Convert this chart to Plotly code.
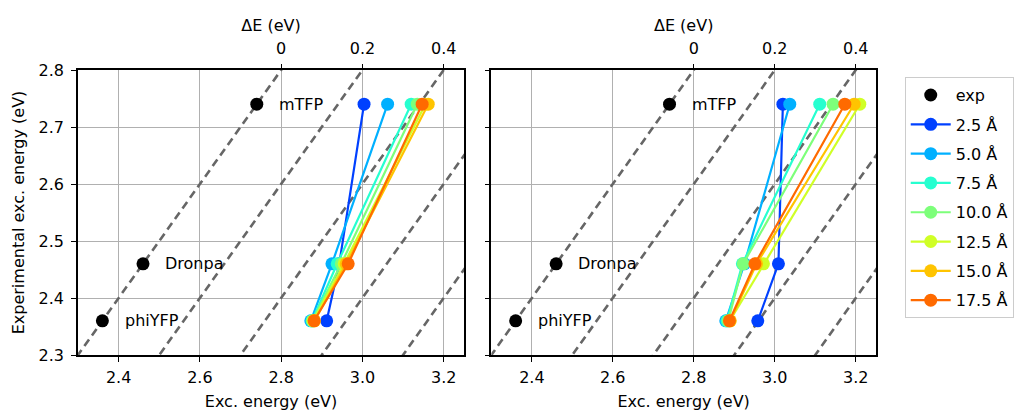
import plotly.graph_objects as go

# ---------------- data ----------------
proteins = ["mTFP", "Dronpa", "phiYFP"]
exp_energy = [2.74, 2.46, 2.36]
labels = ["2.5 Å", "5.0 Å", "7.5 Å", "10.0 Å", "12.5 Å", "15.0 Å", "17.5 Å"]
colors = ["#0040ff", "#00b0ff", "#26ffd0", "#7dff7a", "#d0ff26", "#ffc400", "#ff6a00"]

left_25 = [3.004, 2.943, 2.912]
left_50 = [3.062, 2.925, 2.873]
left_75 = [3.120, 2.938, 2.876]
left_100 = [3.135, 2.948, 2.877]
left_125 = [3.155, 2.955, 2.879]
left_150 = [3.162, 2.960, 2.882]
left_175 = [3.147, 2.965, 2.881]

right_25 = [3.020, 3.009, 2.958]
right_50 = [3.037, 2.925, 2.879]
right_75 = [3.111, 2.920, 2.882]
right_100 = [3.144, 2.922, 2.885]
right_125 = [3.210, 2.972, 2.889]
right_150 = [3.196, 2.955, 2.890]
right_175 = [3.173, 2.951, 2.888]

left_series = [left_25, left_50, left_75, left_100, left_125, left_150, left_175]
right_series = [right_25, right_50, right_75, right_100, right_125, right_150, right_175]

diag_offsets = [0.0, 0.2, 0.4, 0.6, 0.8, 1.0]
top_tickvals = [2.8, 3.0, 3.2]
top_ticktext = ["0", "0.2", "0.4"]
x_range = [2.3, 3.25]
y_range = [2.3, 2.8]

# ---------------- figure ----------------
FONT = "DejaVu Sans"
FS = 16
fig = go.Figure()

panels = [("x", "y", left_series, True), ("x2", "y2", right_series, False)]
for xa, ya, series, show_leg in panels:
    for c in diag_offsets:
        xs = [2.0, 3.6]
        fig.add_trace(go.Scatter(x=xs, y=[v - c for v in xs], mode="lines",
                                 line=dict(color="#666666", width=2.6, dash="8px,5px"),
                                 xaxis=xa, yaxis=ya, showlegend=False, hoverinfo="skip"))
    fig.add_trace(go.Scatter(x=exp_energy, y=exp_energy, mode="markers",
                             marker=dict(color="black", size=13),
                             name="exp", legendgroup="exp", showlegend=show_leg,
                             xaxis=xa, yaxis=ya))
    for lab, col, vals in zip(labels, colors, series):
        fig.add_trace(go.Scatter(x=vals, y=exp_energy, mode="lines+markers",
                                 line=dict(color=col, width=2.2),
                                 marker=dict(color=col, size=13),
                                 name=lab, legendgroup=lab, showlegend=show_leg,
                                 xaxis=xa, yaxis=ya))
    for p, e in zip(proteins, exp_energy):
        fig.add_annotation(x=e + 0.05, y=e, text=p, showarrow=False, xanchor="left",
                           yanchor="middle", xref=xa, yref=ya,
                           font=dict(family=FONT, size=FS, color="black"))

fig.add_trace(go.Scatter(x=[2.8], y=[2.5], xaxis="x3", yaxis="y", mode="markers",
                         marker=dict(opacity=0), showlegend=False, hoverinfo="skip"))
fig.add_trace(go.Scatter(x=[2.8], y=[2.5], xaxis="x4", yaxis="y2", mode="markers",
                         marker=dict(opacity=0), showlegend=False, hoverinfo="skip"))

tickfont = dict(family=FONT, size=FS, color="black")
titlefont = dict(family=FONT, size=FS, color="black")

common_x = dict(range=x_range, showgrid=True, gridcolor="#b0b0b0", gridwidth=1,
                showline=True, linecolor="black", linewidth=1.5, mirror=True,
                ticks="outside", ticklen=5, tickcolor="black", automargin=False,
                tickvals=[2.4, 2.6, 2.8, 3.0, 3.2], ticktext=["2.4", "2.6", "2.8", "3.0", "3.2"],
                tickfont=tickfont, zeroline=False, ticklabelstandoff=2,
                title=dict(text="Exc. energy (eV)", font=titlefont, standoff=12))
common_y = dict(range=y_range, showgrid=True, gridcolor="#b0b0b0", gridwidth=1,
                showline=True, linecolor="black", linewidth=1.5, mirror=True,
                ticks="outside", ticklen=5, tickcolor="black", automargin=False,
                tickvals=[2.3, 2.4, 2.5, 2.6, 2.7, 2.8], tickfont=tickfont, zeroline=False)
top_x = dict(range=x_range, side="top", showgrid=False, zeroline=False, automargin=False,
             tickvals=top_tickvals, ticktext=top_ticktext, ticks="outside", ticklen=5,
             tickcolor="black", tickfont=tickfont, showline=False, ticklabelstandoff=4,
             title=dict(text="ΔE (eV)", font=titlefont, standoff=2))

d1 = [0.0, 0.4837]
d2 = [0.518, 1.0]
fig.update_layout(
    width=1027, height=411, autosize=False,
    margin=dict(l=78, r=151, t=70, b=56),
    paper_bgcolor="white", plot_bgcolor="white",
    font=dict(family=FONT, size=FS, color="black"),
    xaxis=dict(domain=d1, anchor="y", **common_x),
    yaxis=dict(domain=[0, 1], anchor="x", ticklabelstandoff=4,
               title=dict(text="Experimental exc. energy (eV)", font=titlefont, standoff=10),
               **common_y),
    xaxis2=dict(domain=d2, anchor="y2", **common_x),
    yaxis2=dict(domain=[0, 1], anchor="x2", showticklabels=False, **common_y),
    xaxis3=dict(overlaying="x", anchor="y", **top_x),
    xaxis4=dict(overlaying="x2", anchor="y2", **top_x),
    legend=dict(x=1.036, y=0.975, xanchor="left", yanchor="top",
                bordercolor="#cccccc", borderwidth=1, bgcolor="white",
                font=dict(family=FONT, size=FS, color="black"),
                tracegroupgap=5.5, itemwidth=40),
    showlegend=True,
)

fig.write_html("out.html", config={"displayModeBar": False},
               post_script="document.body.style.margin='0';")
